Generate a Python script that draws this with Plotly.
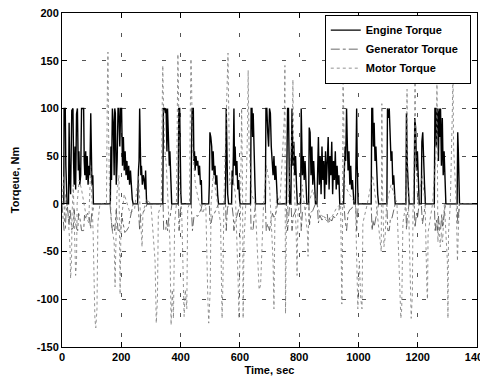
import plotly.graph_objects as go

# ---- Data (time in s, torque in Nm) ----
engine_time = [0, 6, 7, 11, 13, 15, 17, 22, 24, 26, 29, 33, 37, 39, 41, 44, 46, 49, 52, 55, 57, 60, 63, 66, 70, 73, 75, 77, 80, 82, 85, 88, 91, 94, 97, 99, 101, 104, 106,
               160, 163, 165, 167, 170, 173, 176, 178, 180, 183, 186, 189, 192, 195, 198, 201, 204, 207, 210, 213, 216, 219, 222, 225, 228, 231, 234, 237, 240,
               255, 258, 260, 262, 264, 266, 268, 271, 274, 277, 280, 282, 285, 287,
               340, 342, 346, 349, 351, 354, 356, 359, 362, 364, 367, 370, 392, 394, 397, 399, 401, 403,
               435, 437, 439, 443, 445, 447, 449, 452, 455, 458, 461, 464, 467, 470, 472,
               495, 497, 499, 502, 505, 507, 510, 513, 516, 519, 522, 525, 528,
               550, 552, 554, 556, 559, 562, 572, 574, 576, 578, 580, 582, 584, 587, 590, 593, 596, 599, 601,
               636, 638, 641, 643, 645, 647, 649, 651, 653,
               686, 688, 691, 694, 697, 700, 703, 706, 709, 712, 715, 718, 721, 724, 727,
               757, 759, 761, 764, 766, 768, 772, 774, 776, 779, 782, 785, 788, 791, 794,
               805, 807, 809, 811, 814, 817, 820, 823, 826, 832, 834, 837, 840, 843, 846, 849, 852, 855,
               860, 862, 865, 868, 871, 874, 877, 880, 883, 886, 889, 892, 895, 898, 901, 904, 907, 910, 913, 916, 919, 922, 925, 928, 931, 934, 937,
               950, 952, 955, 957, 960, 962, 965, 968, 971, 974, 977, 980, 985, 990, 992, 994, 996, 999,
               1043, 1045, 1048, 1050, 1053, 1056, 1059, 1062, 1065, 1068,
               1096, 1098, 1101, 1104, 1107, 1110, 1113, 1116, 1119, 1122, 1124,
               1160, 1162, 1165, 1168, 1171, 1188, 1190, 1193, 1196, 1199, 1202, 1205, 1212, 1214, 1217, 1220, 1223, 1226,
               1256, 1258, 1261, 1263, 1265, 1268, 1270, 1272, 1275, 1277, 1280, 1283, 1286, 1289, 1292, 1295,
               1333, 1335, 1337, 1339, 1341, 1400]
engine_torque = [0, 0, 100, 100, 40, 10, 0, 0, 85, 30, 10, 98, 100, 45, 20, 60, 15, 94, 100, 35, 55, 20, 30, 100, 100, 100, 45, 30, 55, 25, 50, 20, 40, 30, 95, 40, 20, 30, 0,
                 0, 0, 60, 25, 100, 85, 30, 100, 95, 20, 45, 100, 100, 60, 100, 100, 40, 70, 35, 55, 30, 45, 25, 40, 20, 35, 15, 5, 0,
                 0, 35, 45, 100, 60, 30, 40, 20, 30, 25, 15, 35, 5, 0,
                 0, 100, 100, 95, 100, 55, 100, 75, 40, 55, 20, 0, 0, 100, 100, 35, 10, 0,
                 0, 60, 100, 100, 45, 55, 35, 50, 40, 45, 30, 40, 20, 25, 0,
                 0, 20, 75, 70, 60, 35, 55, 30, 40, 20, 30, 10, 0,
                 0, 20, 100, 30, 10, 0, 0, 35, 20, 50, 100, 40, 60, 30, 45, 15, 25, 5, 0,
                 0, 100, 100, 70, 95, 55, 40, 20, 0,
                 0, 100, 100, 75, 60, 100, 95, 60, 45, 30, 50, 25, 40, 15, 0,
                 0, 60, 100, 100, 45, 0, 0, 75, 100, 40, 65, 30, 50, 20, 0,
                 0, 100, 65, 30, 50, 25, 45, 15, 0, 0, 80, 75, 30, 60, 20, 45, 10, 0,
                 0, 45, 70, 20, 50, 10, 60, 25, 45, 5, 55, 20, 40, 70, 15, 50, 30, 65, 10, 45, 25, 55, 15, 40, 20, 30, 0,
                 0, 30, 60, 45, 100, 70, 35, 55, 20, 40, 15, 25, 0, 0, 85, 100, 40, 0,
                 0, 100, 100, 60, 85, 45, 60, 25, 10, 0,
                 0, 100, 90, 100, 60, 45, 55, 20, 30, 5, 0,
                 0, 95, 40, 20, 0, 0, 90, 80, 35, 55, 15, 0, 0, 65, 75, 30, 20, 0,
                 0, 100, 100, 60, 100, 95, 45, 100, 70, 100, 40, 90, 30, 55, 15, 0,
                 0, 75, 55, 30, 0, 0]

generator_time = [0, 7, 11, 14, 18, 24, 27, 33, 38, 41, 44, 49, 53, 56, 60, 66, 73, 76, 81, 86, 91, 97, 100, 104, 107,
                  162, 166, 170, 174, 178, 183, 189, 194, 198, 203, 208, 212, 218, 224, 230, 236, 240,
                  257, 262, 265, 268, 274, 280, 285, 288,
                  341, 343, 350, 353, 356, 360, 364, 368, 371, 393, 395, 398, 402,
                  436, 440, 445, 450, 458, 465, 470, 473,
                  497, 499, 503, 508, 514, 520, 528,
                  552, 554, 558, 562, 573, 578, 580, 584, 590, 596, 601,
                  636, 638, 642, 645, 649, 653,
                  686, 689, 694, 700, 705, 710, 715, 721, 727,
                  757, 761, 765, 768, 773, 776, 780, 785, 790, 794,
                  805, 807, 811, 817, 822, 826, 833, 835, 840, 846, 851, 855,
                  861, 865, 870, 877, 883, 889, 895, 898, 904, 910, 916, 922, 928, 934, 937,
                  951, 955, 960, 965, 971, 977, 985, 991, 994, 997, 1000,
                  1043, 1046, 1050, 1053, 1058, 1063, 1068,
                  1096, 1099, 1104, 1108, 1113, 1118, 1124,
                  1160, 1162, 1166, 1171, 1188, 1191, 1196, 1199, 1205, 1212, 1216, 1221, 1226,
                  1256, 1259, 1263, 1266, 1270, 1273, 1277, 1281, 1284, 1288, 1292, 1295,
                  1333, 1335, 1338, 1341, 1400]
generator_torque = [0, -28, -28, -8, -2, -22, -5, -27, -25, -6, -16, -26, -28, -10, -14, -28, -28, -12, -15, -10, -12, -26, -10, -8, 0,
                    0, -17, -28, -22, -28, -6, -28, -27, -28, -15, -22, -30, -28, -25, -15, -4, 0,
                    0, -28, -12, -12, -9, -5, -2, 0,
                    0, -28, -27, -17, -28, -15, -15, -3, 0, 0, -28, -12, 0,
                    0, -28, -14, -12, -13, -9, -5, 0,
                    0, -21, -20, -12, -10, -6, 0,
                    0, -28, -5, 0, 0, -14, -28, -17, -13, -7, 0,
                    0, -28, -28, -26, -11, 0,
                    0, -28, -21, -28, -18, -10, -14, -11, 0,
                    0, -28, -15, 0, 0, -28, -13, -9, -6, 0,
                    0, -28, -9, -8, -5, 0, 0, -22, -9, -7, -3, 0,
                    0, -20, -12, -17, -13, -15, -11, -20, -14, -18, -13, -15, -11, -8, 0,
                    0, -17, -28, -10, -6, -5, 0, 0, -28, -11, 0,
                    0, -28, -17, -24, -16, -6, 0,
                    0, -28, -28, -15, -15, -7, 0,
                    0, -27, -10, 0, 0, -25, -10, -15, 0, 0, -21, -8, 0,
                    0, -28, -17, -28, -13, -28, -28, -11, -25, -12, -4, 0,
                    0, -21, -12, 0, 0]

motor_time = [0, 6, 8, 12, 20, 27, 29, 32, 34, 38, 44, 46, 49, 51, 58, 66, 80, 90, 97, 105, 111, 114, 118, 121, 128,
              150, 153, 155, 157, 160, 168, 176, 179, 181, 185, 192, 196, 199, 210, 230, 245, 258, 265, 270, 273, 285,
              300, 314, 318, 322, 325, 335, 338, 340, 342, 346, 352, 358, 364, 368, 372, 376, 380, 386, 389, 391, 393, 396,
              404, 408, 412, 416, 421, 424, 430, 433, 435, 437, 440, 450, 460, 475, 485, 492, 495, 500, 503, 510, 520,
              535, 540, 543, 546, 555, 558, 560, 562, 566, 575, 585, 594, 597, 600, 603, 606, 609, 611, 614, 620, 626,
              628, 631, 640, 652, 661, 665, 670, 675, 680, 690, 700, 712, 715, 718, 725, 735, 750, 752, 754, 757, 765,
              777, 779, 782, 790, 793, 796, 810, 828, 830, 833, 845, 870, 900, 925, 940, 944, 946, 948, 950, 953, 970,
              990, 995, 998, 1003, 1008, 1012, 1015, 1030, 1048, 1060, 1073, 1077, 1079, 1081, 1086, 1090, 1095, 1110,
              1130, 1140, 1143, 1146, 1150, 1160, 1164, 1166, 1174, 1178, 1182, 1184, 1189, 1191, 1193, 1200, 1215,
              1225, 1231, 1233, 1235, 1250, 1263, 1265, 1268, 1272, 1276, 1280, 1284, 1290, 1300, 1302, 1304, 1310,
              1317, 1319, 1321, 1330, 1334, 1336, 1340, 1400]
motor_torque = [0, 30, -20, 10, -10, -45, -78, -60, -10, 20, -50, -75, -60, 0, 25, 15, -10, -20, 40, -30, -120, -130, -110, -20, 0,
                0, 119, 159, 80, 20, -25, -40, -87, -60, 10, 30, -95, -20, 10, -10, -5, 30, -15, -45, -10, 5,
                0, -60, -125, -100, -10, 0, 100, 145, 110, 60, 40, -5, -40, -127, -90, -120, -20, 0, 100, 157, 120, 20,
                -10, -60, -118, -90, -110, -5, 0, 100, 152, 130, 60, 20, 5, -10, 0, -100, -125, -90, 0, 30, 10,
                -20, -120, -80, 0, 100, 130, 158, 108, 20, 30, 10, -80, -120, -60, 60, 100, 20, -120, -40, 0, 80,
                140, 60, 10, 0, -60, -90, -85, -30, 0, 40, 20, -60, -110, -20, 10, 0, 90, 145, -115, -20, 10,
                80, 130, 30, -30, -75, -10, 20, -30, -55, 0, 15, -10, -20, -5, 0, -105, -60, 130, 105, 20, 10,
                0, -100, -110, -60, -100, -110, -20, 0, 30, 0, -40, -50, 105, 20, -45, -35, 0, 20,
                0, -100, -120, -110, -20, 0, 120, 40, -85, -120, -95, -10, 60, 150, 60, 0, 30,
                0, -90, -100, -30, 0, 60, 135, -40, -20, -45, -30, -40, 0, -60, -120, -30, 0,
                100, 140, 60, 0, -60, -40, 0, 0]

series_names = ["Engine Torque\u00a0\u00a0", "Generator Torque\u00a0\u00a0", "Motor Torque\u00a0\u00a0"]
x_ticks = [0, 200, 400, 600, 800, 1000, 1200, 1400]
y_ticks = [-150, -100, -50, 0, 50, 100, 150, 200]

FONT = "Liberation Sans, Arial, sans-serif"

fig = go.Figure()
fig.add_trace(go.Scatter(x=engine_time, y=engine_torque, mode="lines", name=series_names[0],
                         line=dict(color="black", width=1.4, dash="solid")))
fig.add_trace(go.Scatter(x=generator_time, y=generator_torque, mode="lines", name=series_names[1],
                         line=dict(color="#444444", width=0.8, dash="dashdot")))
fig.add_trace(go.Scatter(x=motor_time, y=motor_torque, mode="lines", name=series_names[2],
                         line=dict(color="#777777", width=0.8, dash="dot")))

tick_font = dict(family=FONT, size=11, color="black", weight="bold")
axis_common = dict(showline=True, linecolor="black", linewidth=1, mirror="ticks",
                   ticks="inside", ticklen=5, tickcolor="black",
                   showgrid=True, gridcolor="#555555", gridwidth=1, griddash="4px,16px",
                   zeroline=False, tickfont=tick_font, automargin=False,
                   ticklabeloverflow="allow")

fig.update_xaxes(range=[0, 1400], tickvals=x_ticks, ticktext=[str(v) for v in x_ticks],
                 title=dict(text="Time, sec", font=dict(family=FONT, size=11, color="black", weight="bold"), standoff=4),
                 **axis_common)
fig.update_yaxes(range=[-150, 200], tickvals=y_ticks, ticktext=[str(v) for v in y_ticks],
                 title=dict(text="Torqeue, Nm", font=dict(family=FONT, size=11, color="black", weight="bold"), standoff=14),
                 **axis_common)

# page body has a default 8px margin, so the figure is sized/offset to compensate
fig.update_layout(
    width=480, height=375,
    margin=dict(l=54, r=11, t=5, b=36),
    paper_bgcolor="white", plot_bgcolor="white",
    showlegend=True,
    legend=dict(x=0.985, y=0.995, xanchor="right", yanchor="top",
                bgcolor="white", bordercolor="black", borderwidth=1,
                font=dict(family=FONT, size=11, color="black", weight="bold"),
                tracegroupgap=0, itemwidth=30),
)

fig.write_html("out.html")
